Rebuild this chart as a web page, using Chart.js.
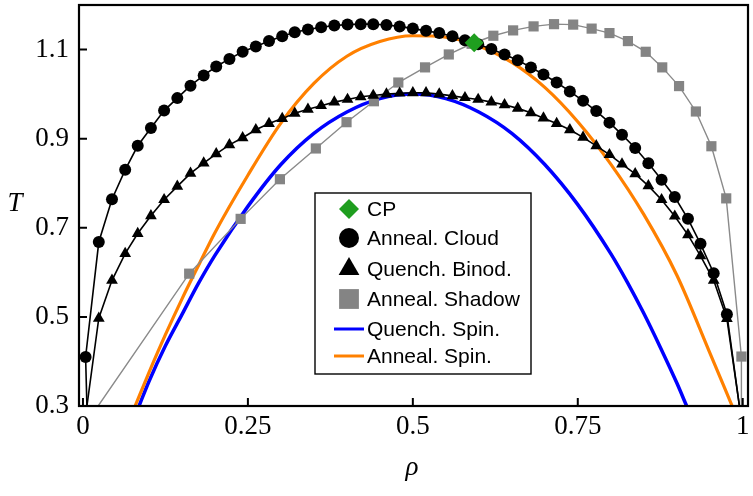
<!DOCTYPE html>
<html>
<head>
<meta charset="utf-8">
<script src="https://cdn.jsdelivr.net/npm/chart.js@4.4.0/dist/chart.umd.min.js"></script>
<style>
  html, body { margin: 0; padding: 0; background: #fff; }
  #wrap { width: 753px; height: 496px; }
</style>
</head>
<body>
<div id="wrap"><canvas id="phaseChart" width="753" height="496"></canvas></div>
<script>
// axis ticks
const xTicks = [0, 0.25, 0.5, 0.75, 1];
const xTickLabels = ['0', '0.25', '0.5', '0.75', '1'];
const yTicks = [0.3, 0.5, 0.7, 0.9, 1.1];
const yTickLabels = ['0.3', '0.5', '0.7', '0.9', '1.1'];

// critical point
const cpRho = [0.593];
const cpT = [1.115];

// annealed cloud curve (circles)
const cloudRho = [0.006, 0.004, 0.024, 0.044, 0.064, 0.083, 0.103, 0.123, 0.143, 0.163, 0.183, 0.202, 0.222,
  0.242, 0.262, 0.282, 0.302, 0.321, 0.341, 0.361, 0.381, 0.401, 0.421, 0.440, 0.460, 0.480, 0.500, 0.520,
  0.540, 0.560, 0.579, 0.599, 0.619, 0.639, 0.659, 0.679, 0.698, 0.718, 0.738, 0.758, 0.778, 0.798, 0.817,
  0.837, 0.857, 0.877, 0.897, 0.917, 0.936, 0.956, 0.976, 0.995];
const cloudT = [0.30, 0.41, 0.668, 0.764, 0.830, 0.884, 0.924, 0.963, 0.991, 1.019, 1.042, 1.062, 1.079,
  1.095, 1.107, 1.119, 1.130, 1.139, 1.145, 1.150, 1.154, 1.156, 1.157, 1.157, 1.155, 1.152, 1.147, 1.142,
  1.137, 1.130, 1.121, 1.112, 1.101, 1.089, 1.076, 1.060, 1.044, 1.026, 1.006, 0.985, 0.962, 0.936, 0.909,
  0.879, 0.845, 0.808, 0.769, 0.720, 0.664, 0.598, 0.506, 0.30];

// quenched binodal (triangles)
const binodRho = [0.006, 0.024, 0.044, 0.064, 0.083, 0.103, 0.123, 0.143, 0.163, 0.183, 0.202, 0.222,
  0.242, 0.262, 0.282, 0.302, 0.321, 0.341, 0.361, 0.381, 0.401, 0.421, 0.440, 0.460, 0.480, 0.500, 0.520,
  0.540, 0.560, 0.579, 0.599, 0.619, 0.639, 0.659, 0.679, 0.698, 0.718, 0.738, 0.758, 0.778, 0.798, 0.817,
  0.837, 0.857, 0.877, 0.897, 0.917, 0.936, 0.956, 0.976, 0.995];
const binodT = [0.30, 0.497, 0.582, 0.642, 0.687, 0.727, 0.763, 0.793, 0.822, 0.845, 0.866, 0.886,
  0.902, 0.920, 0.934, 0.945, 0.957, 0.966, 0.974, 0.982, 0.988, 0.994, 0.997, 1.000, 1.002, 1.003, 1.003,
  1.000, 0.996, 0.992, 0.988, 0.982, 0.976, 0.968, 0.958, 0.946, 0.934, 0.920, 0.903, 0.884, 0.864, 0.843,
  0.821, 0.794, 0.763, 0.726, 0.684, 0.637, 0.582, 0.496, 0.30];

// annealed shadow curve (squares)
const shadowRho = [0.023, 0.161, 0.239, 0.2985, 0.353, 0.3995, 0.441, 0.478, 0.5185, 0.5545, 0.589, 0.622,
  0.652, 0.683, 0.714, 0.743, 0.771, 0.798, 0.826, 0.853, 0.878, 0.9035, 0.929, 0.9525, 0.975, 0.998, 0.998];
const shadowT = [0.30, 0.597, 0.720, 0.809, 0.878, 0.937, 0.984, 1.026, 1.060, 1.089, 1.113, 1.131,
  1.143, 1.152, 1.157, 1.156, 1.147, 1.137, 1.119, 1.095, 1.060, 1.018, 0.961, 0.883, 0.766, 0.411, 0.30];

// quenched spinodal (blue)
const qSpinRho = [0.085, 0.10, 0.125, 0.15, 0.175, 0.20, 0.25, 0.30, 0.35, 0.40, 0.45, 0.50, 0.55, 0.60,
  0.65, 0.70, 0.75, 0.80, 0.825, 0.85, 0.875, 0.90, 0.915];
const qSpinT = [0.30, 0.355, 0.435, 0.505, 0.575, 0.638, 0.748, 0.842, 0.912, 0.960, 0.990, 1.000, 0.990, 0.960,
  0.912, 0.842, 0.752, 0.642, 0.578, 0.508, 0.432, 0.352, 0.30];

// annealed spinodal (orange)
const aSpinRho = [0.079, 0.10, 0.125, 0.15, 0.177, 0.20, 0.25, 0.30, 0.35, 0.40, 0.45, 0.50, 0.55, 0.60,
  0.65, 0.70, 0.75, 0.80, 0.85, 0.90, 0.95, 0.984];
const aSpinT = [0.30, 0.375, 0.46, 0.54, 0.621, 0.689, 0.818, 0.935, 1.024, 1.085, 1.118, 1.131, 1.128, 1.108,
  1.071, 1.015, 0.938, 0.843, 0.730, 0.594, 0.420, 0.30];

const toPoints = (xs, ys) => xs.map((x, i) => ({ x: x, y: ys[i] }));
// end points on the frame get no marker
const markerSize = r => ctx => (ctx.raw && ctx.raw.y <= 0.3 ? 0 : r);

// legend box drawn inside the plot
const legendRows = [209, 238, 269, 299, 329, 356];
const legendSizes = [10, 10, 12, 14, 0, 0];

const boxLegend = {
  id: 'boxLegend',
  afterDatasetsDraw(chart) {
    const ctx = chart.ctx;
    ctx.save();
    ctx.fillStyle = '#fff';
    ctx.fillRect(315, 193, 216, 181);
    ctx.strokeStyle = '#000';
    ctx.lineWidth = 1.4;
    ctx.strokeRect(315, 193, 216, 181);
    ctx.font = '21px "Liberation Sans", Arial, sans-serif';
    ctx.textBaseline = 'middle';
    ctx.textAlign = 'left';
    chart.data.datasets.forEach((ds, i) => {
      const y = legendRows[i];
      if (legendSizes[i] > 0) {
        ctx.fillStyle = ds.pointBackgroundColor;
        Chart.helpers.drawPoint(ctx, { pointStyle: ds.pointStyle, radius: legendSizes[i], rotation: 0, borderWidth: 0 }, 349, y);
      } else {
        ctx.strokeStyle = ds.borderColor;
        ctx.lineWidth = 3;
        ctx.beginPath();
        ctx.moveTo(334, y);
        ctx.lineTo(364, y);
        ctx.stroke();
      }
      ctx.fillStyle = '#000';
      ctx.fillText(ds.label, 367, y + 1);
    });
    ctx.restore();
  }
};

// frame, inward ticks and axis titles
const frameAndTitles = {
  id: 'frameAndTitles',
  afterDraw(chart) {
    const ctx = chart.ctx;
    const a = chart.chartArea;
    const xs = chart.scales.x, ys = chart.scales.y;
    ctx.save();
    ctx.strokeStyle = '#000';
    ctx.lineWidth = 2.2;
    ctx.strokeRect(a.left, a.top, a.right - a.left, a.bottom - a.top);
    ctx.lineWidth = 2;
    ctx.beginPath();
    xTicks.forEach(v => {
      const px = xs.getPixelForValue(v);
      ctx.moveTo(px, a.bottom);
      ctx.lineTo(px, a.bottom - 8);
    });
    yTicks.forEach(v => {
      const py = ys.getPixelForValue(v);
      ctx.moveTo(a.left, py);
      ctx.lineTo(a.left + 8, py);
    });
    ctx.stroke();
    ctx.fillStyle = '#000';
    ctx.font = 'italic 27px "Liberation Serif", "Times New Roman", serif';
    ctx.textAlign = 'center';
    ctx.textBaseline = 'alphabetic';
    ctx.fillText('T', 15, 211);
    ctx.fillText('ρ', 412, 475);
    ctx.restore();
  }
};

const tickFont = { family: '"Liberation Serif", "Times New Roman", serif', size: 27 };

new Chart(document.getElementById('phaseChart'), {
  type: 'scatter',
  data: {
    datasets: [
      {
        label: 'CP',
        data: toPoints(cpRho, cpT),
        pointStyle: 'rectRot',
        pointRadius: 9.5,
        pointBackgroundColor: '#1f9e1f',
        pointBorderWidth: 0,
        showLine: false,
        order: 0
      },
      {
        label: 'Anneal. Cloud',
        data: toPoints(cloudRho, cloudT),
        pointStyle: 'circle',
        pointRadius: markerSize(6),
        pointBackgroundColor: '#000',
        pointBorderWidth: 0,
        borderColor: '#000',
        borderWidth: 1.6,
        showLine: true,
        clip: 0,
        order: 1
      },
      {
        label: 'Quench. Binod.',
        data: toPoints(binodRho, binodT),
        pointStyle: 'triangle',
        pointRadius: markerSize(6.8),
        pointBackgroundColor: '#000',
        pointBorderWidth: 0,
        borderColor: '#000',
        borderWidth: 1.6,
        showLine: true,
        clip: 0,
        order: 2
      },
      {
        label: 'Anneal. Shadow',
        data: toPoints(shadowRho, shadowT),
        pointStyle: 'rect',
        pointRadius: markerSize(7.2),
        pointBackgroundColor: '#848484',
        pointBorderWidth: 0,
        borderColor: '#8a8a8a',
        borderWidth: 1.4,
        showLine: true,
        clip: 0,
        order: 3
      },
      {
        label: 'Quench. Spin.',
        data: toPoints(qSpinRho, qSpinT),
        pointRadius: 0,
        borderColor: '#0000ff',
        borderWidth: 3.5,
        showLine: true,
        cubicInterpolationMode: 'monotone',
        clip: 0,
        order: 5
      },
      {
        label: 'Anneal. Spin.',
        data: toPoints(aSpinRho, aSpinT),
        pointRadius: 0,
        borderColor: '#ff8000',
        borderWidth: 3.2,
        showLine: true,
        cubicInterpolationMode: 'monotone',
        clip: 0,
        order: 4
      }
    ]
  },
  options: {
    responsive: false,
    animation: false,
    layout: { autoPadding: false, padding: { left: 0, top: 5, right: 5, bottom: 0 } },
    plugins: { legend: { display: false }, tooltip: { enabled: false } },
    scales: {
      x: {
        type: 'linear',
        min: -0.006,
        max: 1.008,
        grid: { display: false, drawTicks: false },
        border: { display: false },
        afterBuildTicks: s => { s.ticks = xTicks.map(v => ({ value: v })); },
        afterFit: s => { s.height = 90; s.paddingLeft = 0; s.paddingRight = 0; },
        ticks: {
          autoSkip: false,
          maxRotation: 0,
          padding: 5,
          color: '#000',
          font: tickFont,
          callback: (v, i) => xTickLabels[i]
        }
      },
      y: {
        type: 'linear',
        min: 0.3,
        max: 1.2,
        grid: { display: false, drawTicks: false },
        border: { display: false },
        afterBuildTicks: s => { s.ticks = yTicks.map(v => ({ value: v })); },
        afterFit: s => { s.width = 79; s.paddingTop = 0; s.paddingBottom = 0; },
        ticks: {
          autoSkip: false,
          padding: 10,
          color: '#000',
          font: tickFont,
          callback: (v, i) => yTickLabels[i]
        }
      }
    }
  },
  plugins: [boxLegend, frameAndTitles]
});
</script>
</body>
</html>
